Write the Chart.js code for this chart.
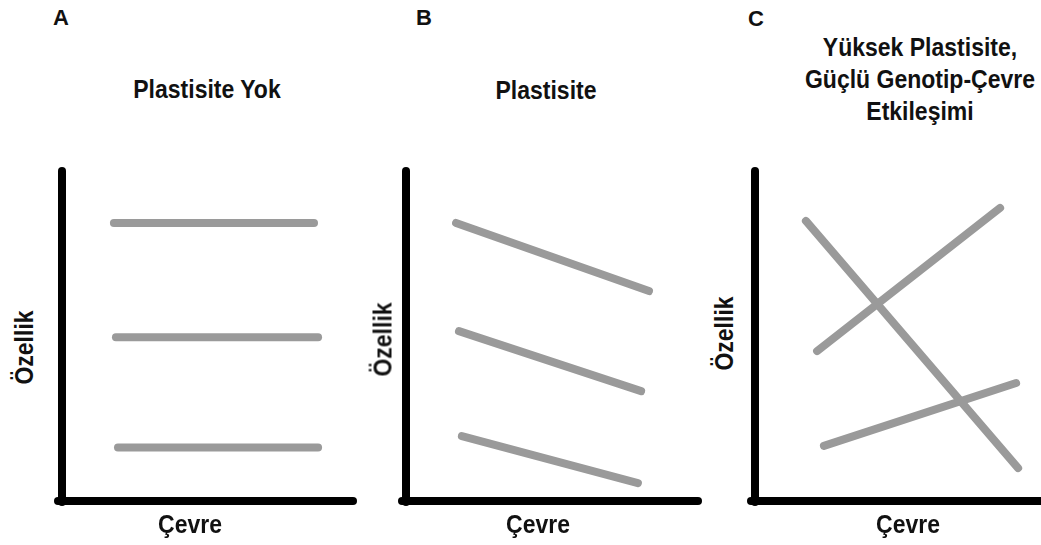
<!DOCTYPE html>
<html>
<head>
<meta charset="utf-8">
<script src="https://cdn.jsdelivr.net/npm/chart.js@4/dist/chart.umd.min.js"></script>
<style>
  html, body { margin: 0; padding: 0; background: #fff; overflow: hidden; }
  #wrap { position: relative; width: 1041px; height: 545px; overflow: hidden; background: #fff; }
  canvas { position: absolute; }
  .txt { position: absolute; font-family: 'Liberation Sans', Arial, sans-serif; font-weight: bold;
         color: #111; white-space: nowrap; text-align: center; transform-origin: center center; }
  .title { font-size: 25px; line-height: 32px; width: 320px; transform: scaleX(0.92); }
  .letter { font-size: 22px; line-height: 22px; text-align: left; }
  .xlab { font-size: 25px; line-height: 25px; width: 200px; transform: scaleX(0.92); }
  .ylab { font-size: 25px; line-height: 25px; width: 200px; height: 25px; transform: rotate(-90deg) scaleX(0.92); }
</style>
</head>
<body>
<div id="wrap">
  <canvas id="cA" width="310" height="356" style="left:52px; top:160px;"></canvas>
  <canvas id="cB" width="311" height="356" style="left:396px; top:160px;"></canvas>
  <canvas id="cC" width="296" height="356" style="left:745px; top:160px;"></canvas>
</div>
<script>
// ---- text ----
const panelLetters = ['A', 'B', 'C'];
const panelTitles = [
  ['Plastisite Yok'],
  ['Plastisite'],
  ['Yüksek Plastisite,', 'Güçlü Genotip-Çevre', 'Etkileşimi']
];
const xAxisLabel = 'Çevre';
const yAxisLabel = 'Özellik';

// ---- data (environment on x, trait on y; scale 0..10) ----
// Panel A: no plasticity
const panelA_x = [[1.79, 8.69], [1.86, 8.83], [1.93, 8.83]];
const panelA_y = [[8.53, 8.53], [5.02, 5.02], [1.64, 1.64]];
// Panel B: plasticity (parallel reaction norms)
const panelB_x = [[1.72, 8.35], [1.82, 8.08], [1.92, 7.97]];
const panelB_y = [[8.53, 6.44], [5.21, 3.37], [1.99, 0.55]];
// Panel C: high plasticity, strong GxE
const panelC_x = [[1.78, 9.20], [2.17, 8.57], [2.41, 9.13]];
const panelC_y = [[8.59, 1.01], [4.60, 8.99], [1.69, 3.62]];

const LINE_COLOR = '#9a9a9a';

// ---- layout for the text ----
const wrap = document.getElementById('wrap');
function addText(cls, text, left, top) {
  const d = document.createElement('div');
  d.className = 'txt ' + cls;
  d.textContent = text;
  d.style.left = left + 'px';
  d.style.top = top + 'px';
  wrap.appendChild(d);
  return d;
}
const letterPos = [[53, 7], [416, 7], [748, 8]];
panelLetters.forEach((t, i) => addText('letter', t, letterPos[i][0], letterPos[i][1]));

const titleCenters = [[207, 73], [546, 74], [920, 31]];
panelTitles.forEach((lines, i) => {
  const d = addText('title', '', titleCenters[i][0] - 160, titleCenters[i][1]);
  d.innerHTML = lines.map(s => s.replace(/&/g, '&amp;').replace(/</g, '&lt;')).join('<br>');
});

const xLabCenters = [189.5, 537.5, 908];
xLabCenters.forEach(cx => addText('xlab', xAxisLabel, cx - 100, 512));

const yLabCenters = [[24.3, 347], [383.3, 339.5], [724.3, 333.5]];
yLabCenters.forEach(([cx, cy]) => addText('ylab', yAxisLabel, cx - 100, cy - 12.5));

// ---- charts ----
const roundCaps = {
  id: 'roundCaps',
  beforeDraw(chart) { chart.ctx.lineCap = 'round'; }
};

function axisOpts() {
  return {
    type: 'linear', min: 0, max: 10,
    ticks: { display: false },
    grid: { display: false, drawTicks: false },
    border: { display: true, color: '#000', width: 8 },
    title: { display: false }
  };
}

function makePanel(id, xs, ys, padRight) {
  const datasets = xs.map((xr, i) => ({
    data: xr.map((x, j) => ({ x: x, y: ys[i][j] })),
    borderColor: LINE_COLOR,
    borderWidth: 8,
    borderCapStyle: 'round',
    pointRadius: 0,
    fill: false,
    tension: 0
  }));
  new Chart(document.getElementById(id), {
    type: 'line',
    data: { datasets },
    options: {
      responsive: false,
      animation: false,
      events: [],
      layout: { padding: { left: 10, top: 15, right: padRight, bottom: 15 } },
      plugins: { legend: { display: false }, tooltip: { enabled: false }, title: { display: false } },
      scales: { x: axisOpts(), y: axisOpts() }
    },
    plugins: [roundCaps]
  });
}

makePanel('cA', panelA_x, panelA_y, 10);
makePanel('cB', panelB_x, panelB_y, 10);
makePanel('cC', panelC_x, panelC_y, 0);
</script>
</body>
</html>
